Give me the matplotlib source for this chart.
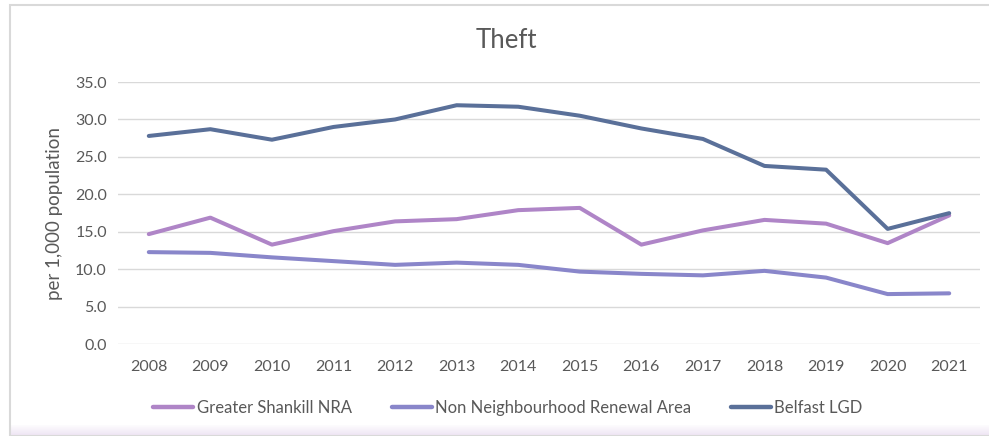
import matplotlib
matplotlib.use("Agg")
import matplotlib.pyplot as plt
import numpy as np
from matplotlib.patches import Rectangle
from matplotlib.colors import LinearSegmentedColormap

plt.rcParams['font.family'] = ['Lato', 'DejaVu Sans']

years = [2008, 2009, 2010, 2011, 2012, 2013, 2014, 2015, 2016, 2017, 2018, 2019, 2020, 2021]
shankill = [14.7, 16.9, 13.3, 15.1, 16.4, 16.7, 17.9, 18.2, 13.3, 15.2, 16.6, 16.1, 13.5, 17.2]
non_nra = [12.3, 12.2, 11.6, 11.1, 10.6, 10.9, 10.6, 9.7, 9.4, 9.2, 9.8, 8.9, 6.7, 6.8]
belfast = [27.8, 28.7, 27.3, 29.0, 30.0, 31.9, 31.7, 30.5, 28.8, 27.4, 23.8, 23.3, 15.4, 17.5]
series_names = ["Greater Shankill NRA", "Non Neighbourhood Renewal Area", "Belfast LGD"]
yticks = [0, 5, 10, 15, 20, 25, 30, 35]

W, H = 989, 436
fig = plt.figure(figsize=(W / 100, H / 100), dpi=100)

# chart frame
fig.patches.append(Rectangle((10 / W, 0), 1.0, 1 - 5 / H, transform=fig.transFigure,
                             fill=False, edgecolor='#D9D9D9', linewidth=1.5, zorder=0))
# bottom gradient
gax = fig.add_axes([10 / W, 0, 1 - 10 / W, 11 / H])
grad = np.linspace(0, 1, 50).reshape(-1, 1)
cm = LinearSegmentedColormap.from_list('g', ['#EDE3F3', '#FFFFFF'])
gax.imshow(grad, aspect='auto', cmap=cm, origin='lower', extent=[0, 1, 0, 1])
gax.axis('off')

ax = fig.add_axes([118 / W, 1 - 344.3 / H, (980 - 118) / W, (344.3 - 82) / H])
colors = ['#AF85C7', '#8986CA', '#5A7099']
for vals, c, n in zip([shankill, non_nra, belfast], colors, series_names):
    ax.plot(years, vals, color=c, linewidth=2.9, label=n, solid_capstyle='round',
            solid_joinstyle='round')

ax.set_xlim(2007.5, 2021.5)
ax.set_ylim(0, 35)
ax.set_yticks(yticks)
ax.set_yticklabels([f"{v:.1f}" for v in yticks])
ax.set_xticks(years)
ax.set_xticklabels([str(y) for y in years])
ax.grid(axis='y', color='#D9D9D9', linewidth=1.0)
ax.set_axisbelow(True)
for s in ax.spines.values():
    s.set_visible(False)
ax.tick_params(axis='both', length=0, labelsize=11.5, colors='#595959')
ax.tick_params(axis='x', pad=11)
ax.tick_params(axis='y', pad=8)
ax.set_ylabel("per 1,000 population", fontsize=13.5, color='#595959', labelpad=9)

fig.text(506 / W, 1 - 40 / H, "Theft", ha='center', va='center', fontsize=18.5, color='#595959')

leg = fig.legend(loc='center', bbox_to_anchor=(508 / W, 1 - 408 / H), ncol=3, frameon=False,
                 fontsize=12, handlelength=2.4, handletextpad=0.2, columnspacing=2.4,
                 labelcolor='#595959')
for l in leg.get_lines():
    l.set_linewidth(3.2)

fig.savefig("out.png", dpi=100)
